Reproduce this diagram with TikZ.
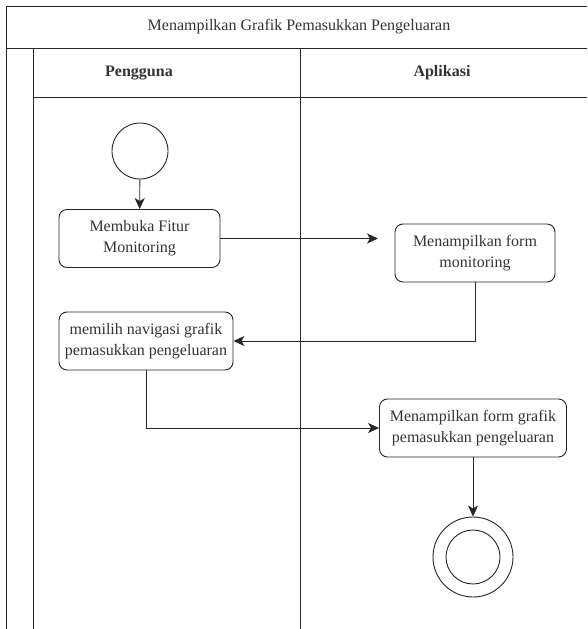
\documentclass[tikz,border=0pt]{standalone}
\usepackage{fontspec}
\setmainfont{Liberation Serif}
\usepackage{xcolor}
\definecolor{lanetext}{HTML}{333333}
\usepackage{tikz}
\usetikzlibrary{arrows.meta,positioning,calc}

\begin{document}
\begin{tikzpicture}[
  x=1pt,y=-1pt,
  font=\fontsize{16}{21}\selectfont,
  lane/.style={draw=black!85,line width=0.9pt},
  act/.style={draw=black!85,rounded corners=8pt,line width=0.9pt,
    minimum height=58pt,align=center,text=lanetext,inner sep=2pt},
  startdot/.style={draw=black!85,circle,minimum size=56pt,line width=0.9pt},
  enddot/.style={draw=black!85,circle,line width=0.9pt},
  arr/.style={-{Stealth[length=11pt,width=10pt,inset=3pt]},black!85,line width=0.9pt}
]
  \useasboundingbox (0,0) rectangle (587,629);
  % Swimlanes
  \draw[lane] (6,629) -- (6,6) -- (587,6);
  \draw[lane] (6,48) -- (587,48);
  \draw[lane] (33,629) -- (33,48);
  \draw[lane] (300,629) -- (300,48);
  \draw[lane] (33,97) -- (587,97);
  \node[text=lanetext]                      (title)    at (299,27)
    {Menampilkan Grafik Pemasukkan Pengeluaran};
  \node[text=lanetext,font=\fontsize{16}{21}\selectfont\bfseries] (pengguna) at (139,73) {Pengguna};
  \node[text=lanetext,font=\fontsize{16}{21}\selectfont\bfseries] (aplikasi) at (442,73) {Aplikasi};
  % Activities
  \node[startdot]                     (start)  at (140,151) {};
  \node[act,minimum width=161pt]      (buka)   at (139.5,238.5) {Membuka Fitur\\ Monitoring};
  \node[act,minimum width=160pt]      (form)   at (475,253) {Menampilkan form\\ monitoring};
  \node[act,minimum width=174pt]      (pilih)  at (146,341) {memilih navigasi grafik\\ pemasukkan pengeluaran};
  \node[act,minimum width=187pt]      (grafik) at (473,428) {Menampilkan form grafik\\ pemasukkan pengeluaran};
  \node[enddot,minimum size=80pt]     (finish) at (473,557) {};
  \node[enddot,minimum size=54pt]     (finishin) at (finish.center) {};
  \coordinate (formin) at (378,238.5);
  % Arrows
  \draw[arr] (start) -- (buka);
  \draw[arr] (buka.east) -- (formin);
  \draw[arr] (form.south) |- (pilih.east);
  \draw[arr] (pilih.south) |- (grafik.west);
  \draw[arr] (grafik.south) -- (finish.north);
\end{tikzpicture}
\end{document}
